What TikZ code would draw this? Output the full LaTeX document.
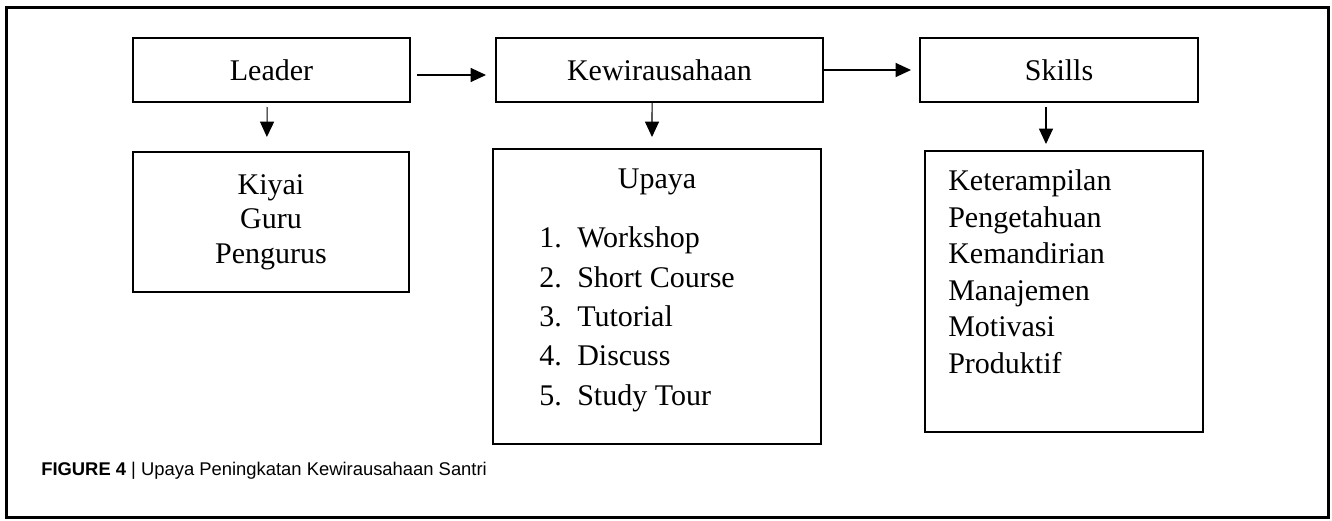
\documentclass[tikz,border=0pt]{standalone}
\usepackage{fontspec}
\setmainfont{Liberation Serif}
\newfontfamily\capfont{Liberation Sans}
\usetikzlibrary{arrows.meta}

\begin{document}
\begin{tikzpicture}[x=0.75pt,y=0.75pt,yscale=-1,xscale=1,
  box/.style={draw, line width=1.5pt, inner sep=0pt, align=center, font=\fontsize{22.5}{25.9}\selectfont},
  txt/.style={inner sep=0pt, font=\fontsize{22.5}{25.9}\selectfont},
  arr/.style={line width=0.8pt, -{Triangle[length=11.5pt,width=10.5pt]}}]
\useasboundingbox (0,0) rectangle (1332,521);

%Shape: Frame
\draw [line width=2.25pt] (6,7) rectangle (1328,517);

%Shape: Rectangle [Leader]
\draw (271.5,70) node (leader) [box, minimum width=207.75pt, minimum height=48pt] {Leader};
%Shape: Rectangle [Kewirausahaan]
\draw (659.5,70) node (kew) [box, minimum width=245.25pt, minimum height=48pt] {Kewirausahaan};
%Shape: Rectangle [Skills]
\draw (1059,70) node (skills) [box, minimum width=208.5pt, minimum height=48pt] {Skills};

%Shape: Rectangle [Kiyai]
\draw (271,222) node (kiyai) [box, minimum width=207pt, minimum height=105pt] {Kiyai\\Guru\\Pengurus};
%Shape: Rectangle [Upaya]
\draw (657,296.5) node (upaya) [box, minimum width=246pt, minimum height=221.25pt] {};
%Shape: Rectangle [Skills list]
\draw (1064,291.5) node (sklist) [box, minimum width=208.5pt, minimum height=210.75pt] {};

%Straight Lines
\draw [arr, shorten <=4.5pt, shorten >=6.75pt] ([yshift=3.75pt]leader.east) -- ([yshift=3.75pt]kew.west);
\draw [arr, shorten >=6pt] (kew.east) -- (skills.west);
\draw [arr, shorten <=3pt, shorten >=10.5pt] ([xshift=-3.2pt]leader.south) -- ([xshift=-3.2pt]kiyai.north);
\draw [arr, shorten >=8.25pt] ([xshift=-5.6pt]kew.south) -- ([xshift=-3.75pt]upaya.north);
\draw [arr, shorten <=3pt, shorten >=4.5pt] ([xshift=-9.75pt]skills.south) -- ([xshift=-13.5pt]sklist.north);

% Text Node
\draw (657,188.5) node (upttl) [txt, anchor=base] {Upaya};
% Text Node
\draw (539,226.5) node (upitems) [txt, anchor=north west, align=left, font=\fontsize{22.5}{29.6}\selectfont]
  {\makebox[28.5pt][l]{1.}Workshop\\\makebox[28.5pt][l]{2.}Short Course\\\makebox[28.5pt][l]{3.}Tutorial\\\makebox[28.5pt][l]{4.}Discuss\\\makebox[28.5pt][l]{5.}Study Tour};
% Text Node
\draw (948,169.5) node (sktext) [txt, anchor=north west, align=left, font=\fontsize{22.5}{27.4}\selectfont]
  {Keterampilan\\Pengetahuan\\Kemandirian\\Manajemen\\Motivasi\\Produktif};

% Text Node
\draw (41,475) node (caption) [anchor=base west, inner sep=0pt, font=\capfont\fontsize{13.8}{16}\selectfont]
  {\textbf{FIGURE 4} | Upaya Peningkatan Kewirausahaan Santri};

\end{tikzpicture}
\end{document}
